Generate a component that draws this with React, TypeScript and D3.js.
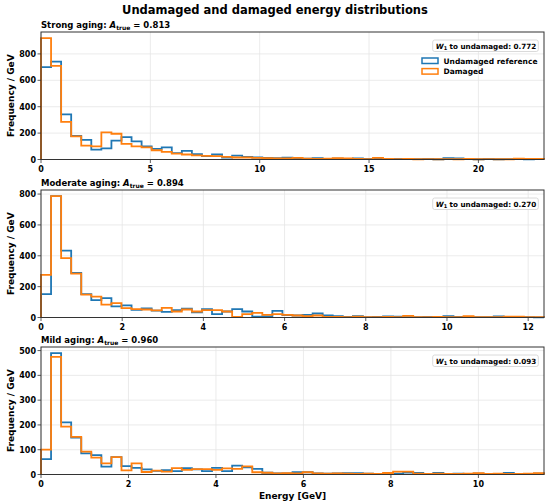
import { useEffect, useRef } from "react";
import * as d3 from "d3";

const W = 550;
const H = 504;
const nBins = 50;

const panelNames = ["Strong aging", "Moderate aging", "Mild aging"];
const aTrue = ["0.813", "0.894", "0.960"];
const w1Values = ["0.772", "0.270", "0.093"];
const xMaxes = [23.0, 12.39, 11.5];
const xTickSteps = [5, 2, 2];
const yTickSteps = [200, 200, 100];
const seriesNames = ["Undamaged reference", "Damaged"];
const colors = ["#1f77b4", "#ff7f0e"];

// histogram counts per GeV, 50 bins from 0 to xMax
const strongRef = [
  700, 742, 342, 178, 148, 75, 85, 143, 170, 138, 100, 80, 92, 48, 66, 40, 26, 38, 15, 30,
  20, 15, 12, 10, 14, 8, 6, 10, 5, 7, 4, 8, 5, 6, 3, 4, 5, 3, 4, 2,
  10, 8, 3, 2, 4, 2, 3, 5, 2, 3,
];
const strongDam = [
  920, 710, 285, 175, 105, 100, 205, 195, 118, 100, 92, 70, 58, 45, 38, 32, 28, 25, 20, 15,
  15, 12, 10, 8, 9, 12, 6, 5, 7, 10, 8, 4, 3, 12, 4, 3, 4, 2, 3, 2,
  3, 2, 4, 2, 3, 2, 2, 6, 5, 4,
];
const modRef = [
  152, 787, 433, 289, 152, 113, 126, 72, 78, 50, 59, 45, 36, 48, 57, 33, 54, 22, 39, 54,
  39, 5, 7, 43, 15, 13, 17, 26, 13, 9, 4, 8, 3, 4, 7, 6, 3, 2, 4, 3,
  9, 4, 3, 2, 3, 7, 2, 3, 2, 1,
];
const modDam = [
  276, 787, 385, 285, 148, 135, 83, 93, 61, 54, 52, 46, 63, 39, 52, 39, 48, 48, 39, 4,
  22, 30, 17, 22, 17, 13, 9, 13, 4, 4, 3, 5, 2, 3, 4, 3, 10, 3, 2, 4,
  3, 2, 9, 3, 2, 3, 6, 6, 2, 2,
];
const mildRef = [
  62, 490, 210, 149, 85, 78, 32, 70, 34, 27, 21, 15, 18, 14, 26, 21, 14, 27, 14, 36,
  29, 23, 7, 4, 4, 9, 9, 4, 3, 4, 5, 5, 3, 2, 2, 3, 8, 6, 2, 6,
  2, 3, 2, 3, 2, 2, 6, 2, 2, 3,
];
const mildDam = [
  100, 475, 193, 152, 92, 68, 45, 70, 17, 45, 10, 16, 12, 26, 19, 22, 22, 19, 25, 23,
  33, 9, 7, 4, 5, 4, 9, 4, 3, 4, 3, 2, 3, 2, 6, 12, 12, 3, 2, 3,
  2, 2, 3, 5, 2, 3, 2, 2, 3, 5,
];

const panelSeries = [
  [strongRef, strongDam],
  [modRef, modDam],
  [mildRef, mildDam],
];

const font = "DejaVu Sans, sans-serif";

const drawChart = (element: any) => {
  d3.select(element).select("svg").remove();
  const svg = d3
    .select(element)
    .append("svg")
    .attr("width", W)
    .attr("height", H)
    .style("display", "block")
    .style("font-family", font)
    .style("font-weight", "bold");

  svg.append("rect").attr("width", W).attr("height", H).attr("fill", "#fff");

  svg
    .append("text")
    .attr("x", 275)
    .attr("y", 14)
    .attr("text-anchor", "middle")
    .style("font-size", "11.5px")
    .text("Undamaged and damaged energy distributions");

  const left = 41;
  const right = 544;
  const tops = [32, 190, 347];
  const ph = 127.5;

  panelSeries.forEach((series, p) => {
    const top = tops[p];
    const bottom = top + ph;
    const xMax = xMaxes[p];
    const binW = xMax / nBins;
    const yMax = (d3.max(series.flat()) as number) * 1.05;

    const x = d3.scaleLinear().domain([0, xMax]).range([left, right]);
    const y = d3.scaleLinear().domain([0, yMax]).range([bottom, top]);
    const g = svg.append("g");

    const xTicks = d3.range(0, xMax + 1e-9, xTickSteps[p]);
    const yTicks = d3.range(0, yMax, yTickSteps[p]);

    // grid
    g.selectAll(".gx")
      .data(xTicks)
      .enter()
      .append("line")
      .attr("x1", (d) => x(d))
      .attr("x2", (d) => x(d))
      .attr("y1", top)
      .attr("y2", bottom)
      .attr("stroke", "#e6e6e6")
      .attr("stroke-width", 0.8);
    g.selectAll(".gy")
      .data(yTicks)
      .enter()
      .append("line")
      .attr("x1", left)
      .attr("x2", right)
      .attr("y1", (d) => y(d))
      .attr("y2", (d) => y(d))
      .attr("stroke", "#e6e6e6")
      .attr("stroke-width", 0.8);

    // step histograms
    const line = d3
      .line<[number, number]>()
      .x((d) => x(d[0]))
      .y((d) => y(d[1]));
    series.forEach((vals, s) => {
      const pts: [number, number][] = [[0, 0]];
      vals.forEach((v, i) => {
        pts.push([i * binW, v]);
        pts.push([(i + 1) * binW, v]);
      });
      pts.push([nBins * binW, 0]);
      g.append("path")
        .attr("d", line(pts) as string)
        .attr("fill", "none")
        .attr("stroke", colors[s])
        .attr("stroke-width", 1.8)
        .attr("stroke-linejoin", "miter");
    });

    // frame
    g.append("rect")
      .attr("x", left)
      .attr("y", top)
      .attr("width", right - left)
      .attr("height", ph)
      .attr("fill", "none")
      .attr("stroke", "#333")
      .attr("stroke-width", 1);

    // ticks
    g.selectAll(".tx")
      .data(xTicks)
      .enter()
      .append("line")
      .attr("x1", (d) => x(d))
      .attr("x2", (d) => x(d))
      .attr("y1", bottom)
      .attr("y2", bottom + 3.5)
      .attr("stroke", "#333")
      .attr("stroke-width", 0.8);
    g.selectAll(".tlx")
      .data(xTicks)
      .enter()
      .append("text")
      .attr("x", (d) => x(d))
      .attr("y", bottom + 12)
      .attr("text-anchor", "middle")
      .style("font-size", "8px")
      .text((d) => d3.format("d")(d));
    g.selectAll(".ty")
      .data(yTicks)
      .enter()
      .append("line")
      .attr("x1", left - 3.5)
      .attr("x2", left)
      .attr("y1", (d) => y(d))
      .attr("y2", (d) => y(d))
      .attr("stroke", "#333")
      .attr("stroke-width", 0.8);
    g.selectAll(".tly")
      .data(yTicks)
      .enter()
      .append("text")
      .attr("x", left - 5)
      .attr("y", (d) => y(d) + 3)
      .attr("text-anchor", "end")
      .style("font-size", "8px")
      .text((d) => d3.format("d")(d));

    // y label
    g.append("text")
      .attr("transform", `translate(14, ${(top + bottom) / 2}) rotate(-90)`)
      .attr("text-anchor", "middle")
      .style("font-size", "9px")
      .text("Frequency / GeV");

    // panel title
    const t = g
      .append("text")
      .attr("x", left)
      .attr("y", top - 4.5)
      .style("font-size", "8.5px");
    t.append("tspan").text(`${panelNames[p]}: `);
    t.append("tspan").style("font-style", "italic").text("A");
    t.append("tspan").attr("dy", 2).style("font-size", "6px").text("true");
    t.append("tspan").attr("dy", -2).text(` = ${aTrue[p]}`);

    // W1 box
    const bx = 432.7;
    const by = top + 8;
    g.append("rect")
      .attr("x", bx)
      .attr("y", by)
      .attr("width", 105.6)
      .attr("height", 11.5)
      .attr("rx", 2)
      .attr("fill", "#fff")
      .attr("stroke", "#d0d0d0")
      .attr("stroke-width", 0.8);
    const wt = g
      .append("text")
      .attr("x", bx + 3)
      .attr("y", by + 8.5)
      .style("font-size", "7.2px");
    wt.append("tspan").style("font-style", "italic").text("W");
    wt.append("tspan").attr("dy", 1.5).style("font-size", "5px").text("1");
    wt.append("tspan").attr("dy", -1.5).text(` to undamaged: ${w1Values[p]}`);

    // legend in top panel
    if (p === 0) {
      seriesNames.forEach((name, s) => {
        const ly = top + 26 + s * 10.6;
        g.append("rect")
          .attr("x", 422)
          .attr("y", ly)
          .attr("width", 16)
          .attr("height", 5.5)
          .attr("fill", "#fff")
          .attr("stroke", colors[s])
          .attr("stroke-width", 1.5);
        g.append("text")
          .attr("x", 443.5)
          .attr("y", ly + 5.5)
          .style("font-size", "7.5px")
          .text(name);
      });
    }

    if (p === 2) {
      svg
        .append("text")
        .attr("x", (left + right) / 2)
        .attr("y", 499)
        .attr("text-anchor", "middle")
        .style("font-size", "9px")
        .text("Energy [GeV]");
    }
  });
};

export default function App() {
  const ref = useRef<HTMLDivElement>(null);
  useEffect(() => {
    document.body.style.margin = "0";
    drawChart(ref.current);
  }, []);
  return <div ref={ref} style={{ width: W, height: H }} />;
}
